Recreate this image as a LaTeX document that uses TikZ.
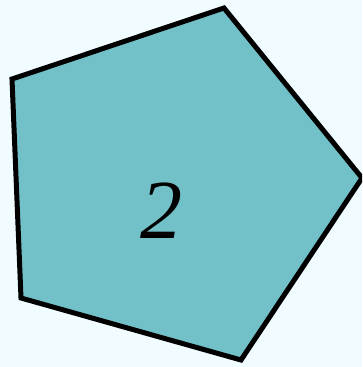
\documentclass[tikz,border=0pt]{standalone}
\usepackage{fontspec}
\setmainfont{Liberation Serif}
\definecolor{bg}{RGB}{240,252,255}
\definecolor{tealfill}{RGB}{114,193,200}
\tikzset{pent/.style={fill=tealfill,draw=black,line width=5pt,line join=miter}}
\begin{document}
\begin{tikzpicture}[x=1pt,y=-1pt]
\fill[bg] (0,0) rectangle (362,367);
\useasboundingbox (0,0) rectangle (362,367);
\coordinate (p1) at (12,79);
\coordinate (p2) at (224,8);
\coordinate (p3) at (362,178);
\coordinate (p4) at (241,360);
\coordinate (p5) at (21,298);
\begin{scope}
\clip (0,0) rectangle (362,367);
\draw[pent] (p1) -- (p2) -- (p3) -- (p4) -- (p5) -- cycle;
\end{scope}
\node[font=\fontsize{84}{84}\selectfont\itshape] (lbl) at (161,211) {2};
\end{tikzpicture}
\end{document}
